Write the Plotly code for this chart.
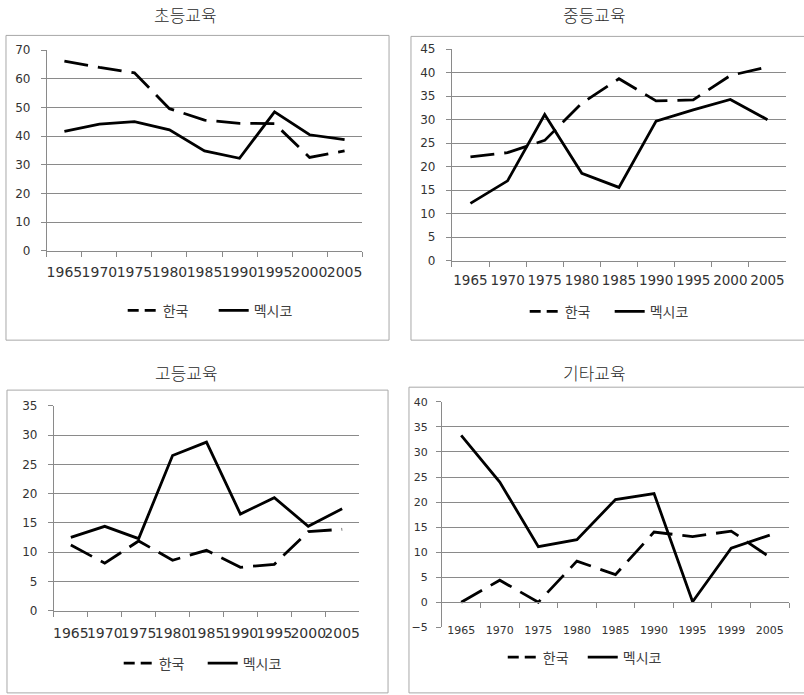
import plotly.graph_objects as go

# Category labels for each panel
years = ["1965", "1970", "1975", "1980", "1985", "1990", "1995", "2000", "2005"]
years_other = ["1965", "1970", "1975", "1980", "1985", "1990", "1995", "1999", "2005"]

# 초등교육
primary_korea = [66.2, 64.0, 62.1, 49.6, 45.6, 44.5, 44.4, 32.6, 34.9]
primary_mexico = [41.7, 44.2, 45.1, 42.2, 34.9, 32.3, 48.5, 40.5, 38.8]

# 중등교육
secondary_korea = [22.1, 23.0, 25.6, 33.5, 38.7, 34.0, 34.2, 39.4, 41.2]
secondary_mexico = [12.2, 17.0, 31.1, 18.6, 15.6, 29.7, 32.1, 34.3, 30.0]

# 고등교육
tertiary_korea = [11.2, 8.1, 11.9, 8.6, 10.3, 7.4, 7.9, 13.5, 13.9]
tertiary_mexico = [12.5, 14.4, 12.3, 26.5, 28.8, 16.5, 19.3, 14.4, 17.4]

# 기타교육
other_korea = [0.0, 4.4, 0.0, 8.2, 5.5, 14.0, 13.1, 14.2, 9.0]
other_mexico = [33.3, 24.0, 11.1, 12.5, 20.5, 21.7, 0.1, 10.8, 13.4]

titles = ["초등교육", "중등교육", "고등교육", "기타교육"]
series_names = ["한국", "멕시코"]

W, H = 804, 695


def px_x(x):
    return x / W


def px_y(y):
    return 1 - y / H


GRID = "#8a8a8a"
BOX = "#a8a8a8"
TICK_FONT = "DejaVu Sans"
KR_FONT = "Noto Sans CJK KR"
DASH_LINE = "24px,10px"   # long dash used on the plotted series
DASH_KEY = "11px,6px"     # same style, shortened to fit the legend swatch
LW = 2.8

# Panel layout: plot area (left, top, right, bottom) in pixels, y range, dtick,
# tick fonts, label standoffs, title centre, legend left/centre + entry width,
# outer box
panels = [
    dict(cats=years, korea=primary_korea, mexico=primary_mexico,
         area=(46, 44, 362, 249), yrange=(0, 70), dtick=10,
         xfont=14, yfont=12, xstand=8, ystand=8,
         title=(185, 8), legend=(122, 310), entry=46, box=(5, 29, 389, 340)),
    dict(cats=years, korea=secondary_korea, mexico=secondary_mexico,
         area=(452, 43, 787, 259), yrange=(0, 45), dtick=5,
         xfont=13.5, yfont=12, xstand=7, ystand=8,
         title=(595, 8), legend=(525, 311), entry=40, box=(411, 30, 806, 340)),
    dict(cats=years, korea=tertiary_korea, mexico=tertiary_mexico,
         area=(53, 407, 359, 616), yrange=(0, 35), dtick=5,
         xfont=14, yfont=12, xstand=10, ystand=8,
         title=(186, 373), legend=(118, 670), entry=39, box=(6, 391, 388, 700)),
    dict(cats=years_other, korea=other_korea, mexico=other_mexico,
         area=(442, 403, 790, 633), yrange=(-5, 40), dtick=5,
         xfont=11, yfont=11, xstand=18, ystand=6,
         title=(595, 373), legend=(503, 664), entry=35, box=(409, 388, 806, 700)),
]

fig = go.Figure()
layout = dict(
    width=W, height=H,
    margin=dict(l=0, r=0, t=0, b=0),
    paper_bgcolor="white", plot_bgcolor="white",
    showlegend=True,
)
annotations = []
shapes = []

for i, p in enumerate(panels, start=1):
    sfx = "" if i == 1 else str(i)
    xa, ya = f"x{sfx}", f"y{sfx}"
    leg = f"legend{sfx}"
    l, t, r, b = p["area"]
    ydom = [px_y(b), px_y(t)]
    y0, y1 = p["yrange"]

    # the two series
    fig.add_trace(go.Scatter(
        x=p["cats"], y=p["korea"], name=series_names[0], mode="lines",
        line=dict(color="black", width=LW, dash=DASH_LINE),
        xaxis=xa, yaxis=ya, showlegend=False,
    ))
    fig.add_trace(go.Scatter(
        x=p["cats"], y=p["mexico"], name=series_names[1], mode="lines",
        line=dict(color="black", width=LW),
        xaxis=xa, yaxis=ya, showlegend=False,
    ))
    # legend keys for the panel
    for name, dash in ((series_names[0], DASH_KEY), (series_names[1], "solid")):
        fig.add_trace(go.Scatter(
            x=[None], y=[None], name=name, mode="lines",
            line=dict(color="black", width=LW, dash=dash),
            xaxis=xa, yaxis=ya, legend=leg, hoverinfo="skip",
        ))

    # category axis crosses the value axis at zero
    if y0 < 0:
        pos = ydom[0] + (0 - y0) / (y1 - y0) * (ydom[1] - ydom[0])
        xanchor = dict(anchor="free", position=pos)
    else:
        xanchor = dict(anchor=ya)

    layout[f"xaxis{sfx}"] = dict(
        domain=[px_x(l), px_x(r)], type="category",
        range=[-0.5, len(p["cats"]) - 0.5],
        showgrid=False, zeroline=False,
        showline=True, linecolor=GRID, linewidth=1,
        ticks="outside", ticklen=5, tickcolor=GRID, tickson="boundaries",
        tickfont=dict(family=TICK_FONT, size=p["xfont"], color="#333333"),
        ticklabelstandoff=p["xstand"], tickangle=0,
        fixedrange=True, **xanchor,
    )
    layout[f"yaxis{sfx}"] = dict(
        domain=ydom, anchor=xa, range=[y0, y1], dtick=p["dtick"], tick0=0,
        showgrid=True, gridcolor=GRID, gridwidth=1, zeroline=False,
        showline=True, linecolor=GRID, linewidth=1,
        ticks="outside", ticklen=5, tickcolor=GRID,
        tickfont=dict(family=TICK_FONT, size=p["yfont"], color="#333333"),
        ticklabelstandoff=p["ystand"], fixedrange=True,
    )

    lx, ly = p["legend"]
    layout[leg] = dict(
        orientation="h", x=px_x(lx), y=px_y(ly),
        xanchor="left", yanchor="middle",
        font=dict(family=KR_FONT, size=14, color="#404040"),
        bgcolor="rgba(0,0,0,0)", itemwidth=30, tracegroupgap=0,
        entrywidth=p["entry"], entrywidthmode="pixels",
        traceorder="normal",
    )

    tx, ty = p["title"]
    annotations.append(dict(
        text=titles[i - 1], x=px_x(tx), y=px_y(ty), xref="paper", yref="paper",
        xanchor="center", yanchor="middle", showarrow=False,
        font=dict(family=KR_FONT, size=17, color="#2a2a2a", weight=300),
    ))

    bx0, by0, bx1, by1 = p["box"]
    shapes.append(dict(
        type="rect", xref="paper", yref="paper",
        x0=px_x(bx0), x1=px_x(bx1), y0=px_y(by1), y1=px_y(by0),
        line=dict(color=BOX, width=1), fillcolor="rgba(0,0,0,0)", layer="below",
    ))

layout["annotations"] = annotations
layout["shapes"] = shapes
fig.update_layout(**layout)

fig.write_html("out.html")
